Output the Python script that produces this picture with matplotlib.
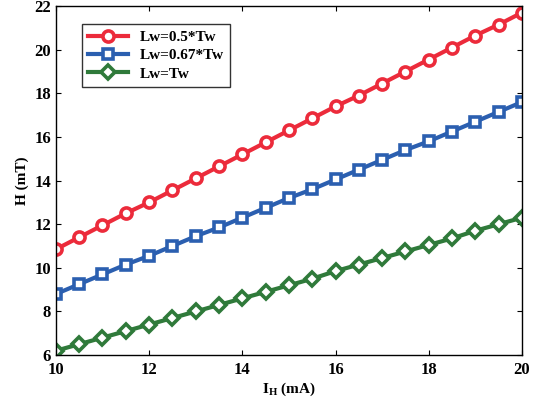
import numpy as np
import matplotlib
matplotlib.use("Agg")
import matplotlib.pyplot as plt

plt.rcParams['font.family'] = ['Liberation Serif', 'DejaVu Serif']
plt.rcParams['font.weight'] = 'bold'
plt.rcParams['mathtext.fontset'] = 'custom'
plt.rcParams['mathtext.rm'] = 'Liberation Serif:bold'
plt.rcParams['mathtext.it'] = 'Liberation Serif:bold'

current = [10, 10.5, 11, 11.5, 12, 12.5, 13, 13.5, 14, 14.5, 15,
           15.5, 16, 16.5, 17, 17.5, 18, 18.5, 19, 19.5, 20]
h_half = [10.85, 11.4, 11.95, 12.5, 13.0, 13.55, 14.1, 14.65, 15.2, 15.75, 16.3,
          16.85, 17.4, 17.9, 18.45, 19.0, 19.55, 20.1, 20.65, 21.15, 21.7]
h_067 = [8.8, 9.25, 9.7, 10.15, 10.55, 11.0, 11.45, 11.85, 12.3, 12.75, 13.2,
         13.6, 14.05, 14.5, 14.95, 15.4, 15.8, 16.25, 16.7, 17.15, 17.6]
h_full = [6.2, 6.5, 6.8, 7.1, 7.4, 7.7, 8.0, 8.3, 8.6, 8.9, 9.2,
          9.5, 9.85, 10.15, 10.45, 10.75, 11.05, 11.35, 11.7, 12.0, 12.3]
labels = ["Lw=0.5*Tw", "Lw=0.67*Tw", "Lw=Tw"]

fig = plt.figure(figsize=(5.37, 4.04), dpi=100)
ax = fig.add_axes([0.104, 0.121, 0.868, 0.864])

ax.plot(current, h_half, '-o', color='#ec2b3b', lw=3, ms=8, mew=2.6,
        mfc='white', label=labels[0])
ax.plot(current, h_067, '-s', color='#2b5fb0', lw=3, ms=6.5, mew=2.6,
        mfc='white', label=labels[1])
ax.plot(current, h_full, '-D', color='#2f7a3a', lw=3, ms=7, mew=2.6,
        mfc='white', label=labels[2])

ax.set_xlim(10, 20)
ax.set_ylim(6, 22)
ax.set_xticks(range(10, 21, 2))
ax.set_yticks(range(6, 23, 2))
ax.tick_params(direction='in', top=True, right=True, labelsize=12)
ax.tick_params(axis='x', pad=5)
for s in ax.spines.values():
    s.set_linewidth(1.0)

ax.set_xlabel("I$_\\mathregular{H}$ (mA)", fontsize=11, fontweight='bold', labelpad=2)
ax.set_ylabel("H (mT)", fontsize=11, fontweight='bold')

leg = ax.legend(loc='upper left', bbox_to_anchor=(0.04, 0.97), fontsize=11,
                frameon=True, fancybox=False, edgecolor='black',
                handlelength=2.6, borderpad=0.4, labelspacing=0.3)
leg.get_frame().set_linewidth(1.0)

fig.savefig("out.png", dpi=100)
